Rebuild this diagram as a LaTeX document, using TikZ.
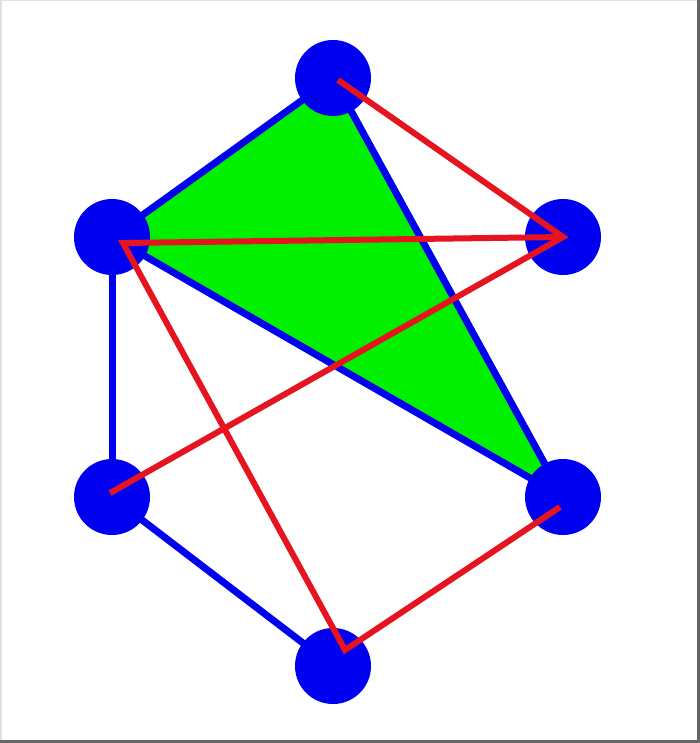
\documentclass[tikz,border=0pt]{standalone}
\usetikzlibrary{backgrounds}
\definecolor{dotblue}{RGB}{0,0,240}
\definecolor{fillgreen}{RGB}{0,240,0}
\definecolor{linkred}{RGB}{230,20,30}
\begin{document}
\begin{tikzpicture}[x=1pt,y=-1pt,
  vertex/.style={circle,fill=dotblue,inner sep=0pt,minimum size=76pt},
  edge/.style={dotblue,line width=7pt},
  link/.style={linkred,line width=6pt,line join=miter}]
\useasboundingbox (0,0) rectangle (700,743);
% vertices
\node[vertex] (a) at (333,78) {};
\node[vertex] (b) at (112,237) {};
\node[vertex] (c) at (563,237) {};
\node[vertex] (d) at (112,497) {};
\node[vertex] (e) at (563,497) {};
\node[vertex] (f) at (333,666) {};
\begin{scope}[on background layer]
% frame
\fill[white] (0,0) rectangle (700,743);
\draw[black!12,line width=1.5pt] (0.75,743) -- (0.75,0.75) -- (700,0.75);
\draw[black!60,line width=2.5pt] (698.7,0) -- (698.7,741.7) -- (0,741.7);
\fill[fillgreen] (a.center) -- (b.center) -- (e.center) -- cycle;
\draw[edge] (a.center) -- (b.center);
\draw[edge] (a.center) -- (e.center);
\draw[edge] (b.center) -- (e.center);
\draw[edge] (b.center) -- (d.center);
\draw[edge] (d.center) -- (f.center);
\end{scope}
% red links
\coordinate (a-red) at ([shift={(5,2)}]a.center);
\coordinate (b-red) at ([shift={(11,6)}]b.center);
\coordinate (d-red) at ([shift={(-2,-4)}]d.center);
\coordinate (e-red) at ([shift={(-3,10)}]e.center);
\coordinate (f-red) at ([shift={(12,-16)}]f.center);
\draw[link] (a-red) -- (c.center) -- (d-red);
\draw[link] (c.center) -- (b-red) -- (f-red) -- (e-red);
\end{tikzpicture}
\end{document}
